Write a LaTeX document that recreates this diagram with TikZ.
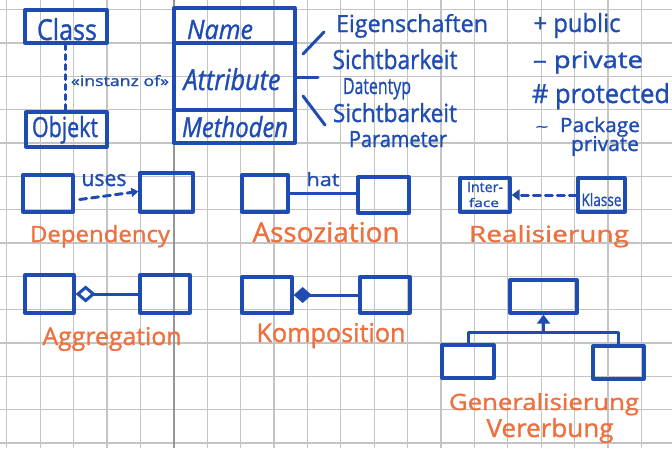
\documentclass[tikz,border=0pt]{standalone}
\usepackage{fontspec}
\usepackage{graphicx}
\setmainfont{Open Sans}[FakeBold=1.2]
\usetikzlibrary{arrows.meta}
\definecolor{ink}{RGB}{30,76,178}
\definecolor{marker}{RGB}{238,112,62}
\definecolor{gridgray}{RGB}{196,196,196}
\definecolor{gridfold}{RGB}{150,150,150}
% scale a piece of text to a given width and height above the baseline (in pt)
\newcommand\fitwh[3]{\resizebox{#1pt}{#2pt}{#3}}
\begin{document}
\begin{tikzpicture}[x=1pt,y=-1pt,
  box/.style={draw=ink,line width=3.3pt,inner sep=0pt,line join=round},
  conn/.style={draw=ink,line width=3pt,line cap=round},
  dashline/.style={dash pattern=on 7pt off 5pt},
  lbl/.style={text=ink,inner sep=0pt,anchor=base},
  tag/.style={text=marker,inner sep=0pt,anchor=base},
  gridline/.style={draw=gridgray,line width=1.2pt}]
\useasboundingbox (0,0) rectangle (672,448);
\fill[white] (0,0) rectangle (672,448);

% squared paper
\foreach \i in {0,...,19} \draw[gridline] ({6.7+33.4*\i},0) -- ++(0,448);
\foreach \j in {0,...,13} \draw[gridline] (0,{9.7+33.33*\j}) -- ++(672,0);
\draw[draw=gridfold,line width=1.8pt] (173.7,0) -- ++(0,448);

% ---- class / object ----
\node[box,minimum width=82pt,minimum height=33pt] (cls) at (66,26.5) {};
\node[box,minimum width=81pt,minimum height=35pt] (obj) at (66.5,129.5) {};
\node[lbl] (tClass) at (67,40) {\fitwh{60}{22}{Class}};
\node[lbl] (tObj) at (65,137) {\fitwh{66}{21}{\underline{Objekt}}};
\draw[conn,dash pattern=on 5pt off 5pt] (cls.south -| 65,0) -- (obj.north -| 65,0);
\node[lbl] (tInst) at (120,86) {\fitwh{98}{11}{«instanz of»}};

% ---- class compartments ----
\node[box,minimum width=121pt,minimum height=35pt] (cName) at (234.5,25.5) {};
\node[box,minimum width=121pt,minimum height=67pt] (cAttr) at (234.5,76.5) {};
\node[box,minimum width=121pt,minimum height=33pt] (cMeth) at (234.5,126.5) {};
\node[lbl] (tName) at (220,39) {\fitwh{66}{19}{\itshape Name}};
\node[lbl] (tAttr) at (232,90) {\fitwh{97}{22}{\itshape Attribute}};
\node[lbl] (tMeth) at (235,137) {\fitwh{106}{21}{\itshape Methoden}};

% notes beside the compartments
\coordinate (n1a) at (303,54);  \coordinate (n1b) at (324,32);
\coordinate (n2a) at (297,77);  \coordinate (n2b) at (318,77);
\coordinate (n3a) at (303,96);  \coordinate (n3b) at (325,125);
\draw[conn] (n1a) -- (n1b);
\draw[conn] (n2a) -- (n2b);
\draw[conn] (n3a) -- (n3b);
\node[lbl] (tEig) at (412,32) {\fitwh{152}{18}{Eigenschaften}};
\node[lbl] (tSi1) at (395,69) {\fitwh{125}{20}{Sichtbarkeit}};
\node[lbl] (tDat) at (377,94) {\fitwh{68}{16}{Datentyp}};
\node[lbl] (tSi2) at (395,122) {\fitwh{124}{19}{Sichtbarkeit}};
\node[lbl] (tPar) at (398,147) {\fitwh{98}{16}{Parameter}};

% visibility markers
\node[lbl] (vPub) at (577,32) {\fitwh{87}{19}{+ public}};
\node[lbl] (vPri) at (588,68) {\fitwh{110}{17}{-- private}};
\node[lbl] (vPro) at (601,103) {\fitwh{138}{20}{\# protected}};
\node[lbl] (vTil) at (542,132) {\fitwh{13}{6}{\textasciitilde}};
\node[lbl] (vPk1) at (600,132) {\fitwh{80}{15}{Package}};
\node[lbl] (vPk2) at (605,151) {\fitwh{68}{15}{private}};

% ---- dependency ----
\node[box,minimum width=50pt,minimum height=37pt] (depL) at (48,193.5) {};
\node[box,minimum width=53pt,minimum height=39pt] (depR) at (166.5,192.5) {};
\draw[conn,dashline,-{Triangle[length=7pt,width=9pt]}] ([xshift=5pt,yshift=-6pt]depL.east) -- ([yshift=1pt]depR.west);
\node[lbl] (tUses) at (104,186) {\fitwh{45}{12}{uses}};
\node[tag] (tDep) at (100,242) {\fitwh{140}{17}{Dependency}};

% ---- association ----
\node[box,minimum width=46pt,minimum height=37pt] (assL) at (265,193.5) {};
\node[box,minimum width=51pt,minimum height=36pt] (assR) at (383.5,195) {};
\draw[conn] (assL.east) -- (assL.east -| assR.west);
\node[lbl] (tHat) at (323,186) {\fitwh{33}{14}{hat}};
\node[tag] (tAss) at (326,242) {\fitwh{147}{20}{Assoziation}};

% ---- realisation ----
\node[box,minimum width=50pt,minimum height=34pt] (iface) at (485,195) {};
\node[box,minimum width=47pt,minimum height=34pt] (klasse) at (601.5,195) {};
\node[lbl] (tIf1) at (485,192) {\fitwh{36}{10}{Inter-}};
\node[lbl] (tIf2) at (484,207) {\fitwh{30}{9}{face}};
\node[lbl] (tKl) at (601.5,206) {\fitwh{40}{13}{Klasse}};
\draw[conn,dashline,-{Triangle[length=8pt,width=11pt]}] (klasse.west) -- (iface.east);
\node[tag] (tRea) at (549,242) {\fitwh{160}{17}{Realisierung}};

% ---- aggregation ----
\node[box,minimum width=49pt,minimum height=38pt] (aggL) at (49.5,294) {};
\node[box,minimum width=50pt,minimum height=38pt] (aggR) at (165,294) {};
\draw[conn,{Diamond[fill=white,length=20pt,width=17pt]}-] (aggL.east) -- (aggR.west);
\node[tag] (tAgg) at (112,345) {\fitwh{139}{18}{Aggregation}};

% ---- composition ----
\node[box,minimum width=50pt,minimum height=36pt] (komL) at (267,295) {};
\node[box,minimum width=50pt,minimum height=36pt] (komR) at (385,295) {};
\draw[conn,{Diamond[length=18pt,width=16pt]}-] (komL.east) -- (komR.west);
\node[tag] (tKom) at (331,342) {\fitwh{149}{19}{Komposition}};

% ---- generalisation ----
\node[box,minimum width=67pt,minimum height=33pt] (genTop) at (543.5,296.5) {};
\node[box,minimum width=52pt,minimum height=33pt] (genL) at (468,361.5) {};
\node[box,minimum width=51pt,minimum height=33pt] (genR) at (618.5,362.5) {};
\coordinate (gJoin) at (543.5,332);
\draw[conn,line join=round] (genL.north) |- (gJoin) -| (genR.north);
\draw[conn,-{Triangle[length=9pt,width=13pt]}] (gJoin) -- (genTop.south);
\node[tag] (tGen) at (544,410) {\fitwh{190}{17}{Generalisierung}};
\node[tag] (tVer) at (550,437) {\fitwh{127}{19}{Vererbung}};
\end{tikzpicture}
\end{document}
